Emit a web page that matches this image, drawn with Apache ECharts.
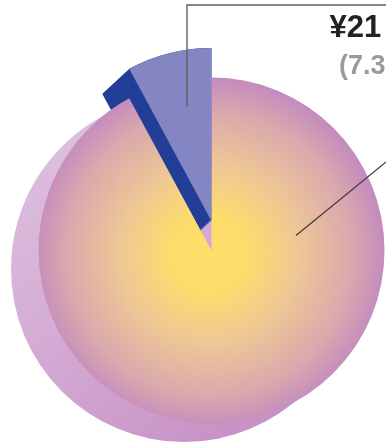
<!DOCTYPE html>
<html>
<head>
<meta charset="utf-8">
<script src="https://cdn.jsdelivr.net/npm/echarts@6/dist/echarts.min.js"></script>
<style>
html,body{margin:0;padding:0;background:#ffffff;}
#chart{width:386px;height:443px;}
</style>
</head>
<body>
<div id="chart"></div>
<script>
// ---- data ----
const categories = ['Others', 'Highlighted'];
const values = [248700, 21300];
const valueLabels = ['¥248 700', '¥21 300'];
const percentLabels = ['92.7%', '7.3%'];

// ---- layout / style ----
const R = 173;
const FRONT = [211.5, 250.5];
const LIFT = [211.5, 221];
const BACK = [184, 269];
const SWEEP = [-27, 25];
const STEPS = 40;
const FONT = 'Liberation Sans, Arial, sans-serif';

const frontFill = {
  type: 'radial', x: 209, y: 254, r: 178, global: true,
  colorStops: [
    { offset: 0, color: '#ffdf69' },
    { offset: 0.22, color: '#fddc6c' },
    { offset: 0.5, color: '#eec795' },
    { offset: 0.8, color: '#d9a9ad' },
    { offset: 1, color: '#c389bf' }
  ]
};
const backFill = {
  type: 'linear', x: 20, y: 150, x2: 230, y2: 440, global: true,
  colorStops: [
    { offset: 0, color: '#dcc0de' },
    { offset: 0.5, color: '#d3aad3' },
    { offset: 1, color: '#c792c7' }
  ]
};
const blue = '#8386c3';
const darkBlue = '#233e97';
const clear = 'rgba(0,0,0,0)';

function pieData(colors) {
  return categories.map((c, i) => ({
    name: c,
    value: values[i],
    itemStyle: { color: colors[i], borderWidth: 0 }
  }));
}

const base = {
  type: 'pie',
  radius: R,
  startAngle: 90,
  clockwise: true,
  avoidLabelOverlap: false,
  silent: true,
  animation: false,
  emphasis: { disabled: true },
  label: { show: false },
  labelLine: { show: false }
};

const labelFmt = p => '{a|' + valueLabels[p.dataIndex] + '}\n{b|(' + percentLabels[p.dataIndex] + ')}';
const labelRich = {
  a: { fontFamily: FONT, fontSize: 31, fontWeight: 'bold', color: '#222222', lineHeight: 39 },
  b: { fontFamily: FONT, fontSize: 27, fontWeight: 'bold', color: '#9a9a9a', lineHeight: 39, padding: [0, 0, 0, 9.5] }
};
// label placement (annotation layout only)
const labelPlacement = [
  { x: 440, y: 100, line: [[296, 235.5], [440, 118]], color: '#3a3a3a', width: 1.2 },
  { x: 329.5, y: 8.5, line: [[187, 107], [187, 5], [420, 5]], color: '#5f5f5f', width: 1.4 }
];

const series = [];
// back (extruded) layer
series.push(Object.assign({}, base, {
  z: 1, center: BACK,
  data: pieData([backFill, backFill])
}));
// dark side wall of the lifted slice
for (let k = STEPS; k >= 0; k--) {
  const t = k / STEPS;
  series.push(Object.assign({}, base, {
    z: 2, center: [LIFT[0] + SWEEP[0] * t, LIFT[1] + SWEEP[1] * t],
    data: pieData([clear, darkBlue])
  }));
}
// front main slice
series.push(Object.assign({}, base, {
  z: 3, center: FRONT,
  data: pieData([frontFill, clear])
}));
// lifted small slice
series.push(Object.assign({}, base, {
  z: 4, center: LIFT,
  data: pieData([clear, blue])
}));
// label layer on top
series.push(Object.assign({}, base, {
  z: 5, center: FRONT,
  data: categories.map((c, i) => ({
    name: c, value: values[i],
    itemStyle: { color: clear, borderWidth: 0 },
    label: { show: true },
    labelLine: { show: true, lineStyle: { color: labelPlacement[i].color, width: labelPlacement[i].width } }
  })),
  label: { show: true, position: 'outside', formatter: labelFmt, rich: labelRich },
  labelLine: { show: true },
  labelLayout: p => {
    const L = labelPlacement[p.dataIndex];
    return { x: L.x, y: L.y, align: 'left', verticalAlign: 'top', labelLinePoints: L.line };
  }
}));

const chart = echarts.init(document.getElementById('chart'), null, { renderer: 'canvas' });
chart.setOption({
  animation: false,
  backgroundColor: '#ffffff',
  series: series
});
</script>
</body>
</html>
